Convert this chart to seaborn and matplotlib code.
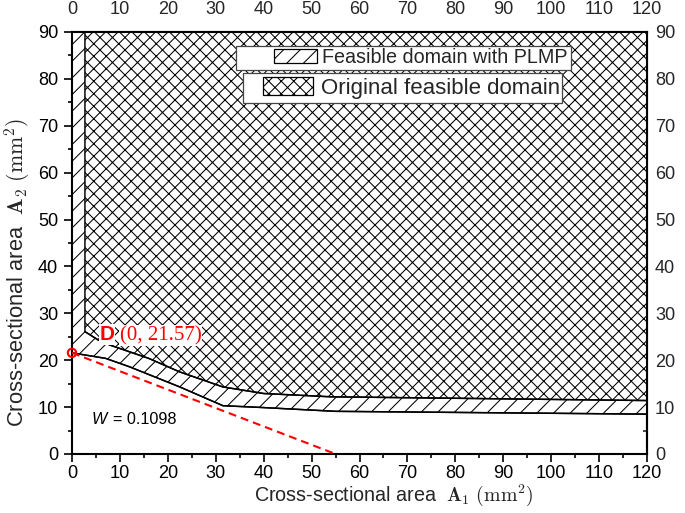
import seaborn as sns
import matplotlib.pyplot as plt
from matplotlib.patches import Patch, Rectangle
from matplotlib.ticker import MultipleLocator

# lower edge of the feasible domain with PLMP (starts at point D)
plmp_x = [0, 7, 12, 22.5, 31.5, 40, 55, 120]
plmp_y = [21.57, 20.4, 18.6, 14.3, 10.3, 9.9, 9.1, 8.5]

# lower edge of the original feasible domain
orig_x = [2.7, 5.5, 8, 12, 16, 22.5, 31.5, 40, 54, 120]
orig_y = [26.1, 24.3, 23.2, 21.8, 20.4, 17.5, 14.3, 12.9, 12.2, 11.4]

# weight line W = 0.1098 through D
w_x = [0, 55]
w_y = [21.57, 0]

d_x = [0]
d_y = [21.57]

y_top = 90
x_ticks = list(range(0, 121, 10))
y_ticks = list(range(0, 91, 10))

DPI = 150
W_PX, H_PX = 685, 513

sns.set_theme(style="ticks")
plt.rcParams["font.family"] = ["Liberation Sans", "DejaVu Sans"]
plt.rcParams["mathtext.fontset"] = "cm"
plt.rcParams["hatch.linewidth"] = 0.5
plt.rcParams["hatch.color"] = "#222222"

fig = plt.figure(figsize=(W_PX / DPI, H_PX / DPI), dpi=DPI)
ax = fig.add_axes([72 / W_PX, 59 / H_PX, 575 / W_PX, 422 / H_PX])

# regions
ax.fill_between(plmp_x, plmp_y, y_top, facecolor="white", edgecolor="black",
                hatch="///", linewidth=0.7, zorder=1)
ax.fill_between(orig_x, orig_y, y_top, facecolor="white", edgecolor="black",
                hatch="xxxx", linewidth=0.7, zorder=2)

# boundaries
sns.lineplot(x=plmp_x, y=plmp_y, color="black", lw=0.7, sort=False, ax=ax, zorder=3)
sns.lineplot(x=orig_x, y=orig_y, color="black", lw=0.7, sort=False, ax=ax, zorder=3)
sns.lineplot(x=w_x, y=w_y, color="red", lw=1.0, ls=(0, (3.8, 2.4)), ax=ax, zorder=4)
sns.scatterplot(x=d_x, y=d_y, marker="o", s=16, color="red", linewidth=1.0,
                ax=ax, zorder=6, clip_on=False)
ax.collections[-1].set_facecolor("none")
ax.collections[-1].set_edgecolor("red")

# annotations
ax.text(5.7, 24.3, "D", color="red", fontsize=10, fontweight="bold", zorder=6,
        bbox=dict(facecolor="white", edgecolor="none", pad=0.3))
ax.text(10.0, 24.3, "(0, 21.57)", color="red", fontsize=10,
        family=["Liberation Serif", "DejaVu Serif"], zorder=6,
        bbox=dict(facecolor="white", edgecolor="none", pad=0.3))
ax.text(4.1, 6.4, "W", fontsize=7.8, style="italic", color="black")
ax.text(8.55, 6.4, "= 0.1098", fontsize=7.8, color="black")

# axes and ticks
ax.set_xlim(0, 120)
ax.set_ylim(0, 90)
ax.set_xticks(x_ticks)
ax.set_yticks(y_ticks)
ax.xaxis.set_minor_locator(MultipleLocator(5))
ax.yaxis.set_minor_locator(MultipleLocator(5))
ax.tick_params(which="both", direction="out", width=0.8, colors="black",
               labelsize=8.7)
ax.tick_params(which="major", length=4)
ax.tick_params(which="minor", length=2)
ax.tick_params(axis="x", pad=1.5)
ax.tick_params(axis="y", pad=2.7)
for sp in ax.spines.values():
    sp.set_linewidth(1.0)
    sp.set_color("black")
    sp.set_visible(True)

top = ax.secondary_xaxis("top")
top.set_xticks(x_ticks)
top.xaxis.set_minor_locator(MultipleLocator(5))
top.tick_params(which="both", direction="in", width=0.8, labelsize=8.7, pad=6.7)
top.tick_params(which="major", length=4)
top.tick_params(which="minor", length=2)
top.spines["top"].set_linewidth(1.0)

right = ax.secondary_yaxis("right")
right.set_yticks(y_ticks)
right.yaxis.set_minor_locator(MultipleLocator(5))
right.tick_params(which="both", direction="in", width=0.8, labelsize=8.7, pad=3.8)
right.tick_params(which="major", length=4)
right.tick_params(which="minor", length=2)
right.spines["right"].set_linewidth(1.0)

ax.set_xlabel(r"Cross-sectional area  $\mathbf{A}_1\ (\mathrm{mm}^2)$", fontsize=9.5)
ax.xaxis.set_label_coords(0.56, -0.068)
ax.set_ylabel(r"Cross-sectional area  $\mathbf{A}_2\ (\mathrm{mm}^2)$", fontsize=10.5)
ax.yaxis.set_label_coords(-0.07, 0.43)

# legends: two separate framed boxes
ax.add_patch(Rectangle((0.285, 0.910), 0.583, 0.0575, transform=ax.transAxes,
                       facecolor="white", edgecolor="#444444", lw=0.6, zorder=7))
ax.add_patch(Rectangle((0.297, 0.8325), 0.555, 0.0695, transform=ax.transAxes,
                       facecolor="white", edgecolor="#444444", lw=0.6, zorder=7))

leg1 = ax.legend(handles=[Patch(facecolor="white", edgecolor="black", hatch="///",
                                lw=0.6, label="Feasible domain with PLMP")],
                 loc="center right", bbox_to_anchor=(0.8626, 0.9388),
                 fontsize=9.5, frameon=False, handlelength=2.2, handleheight=0.7,
                 handletextpad=0.27, borderpad=0, borderaxespad=0)
leg1.set_zorder(8)
ax.add_artist(leg1)
leg2 = ax.legend(handles=[Patch(facecolor="white", edgecolor="black", hatch="xxxx",
                                lw=0.6, label="Original feasible domain")],
                 loc="center right", bbox_to_anchor=(0.8487, 0.867),
                 fontsize=10.7, frameon=False, handlelength=2.25, handleheight=0.8,
                 handletextpad=0.36, borderpad=0, borderaxespad=0)
leg2.set_zorder(8)

fig.savefig("out.png", dpi=DPI)
